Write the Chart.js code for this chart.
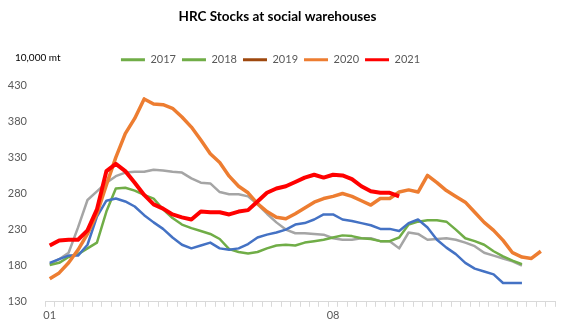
<!DOCTYPE html>
<html>
<head>
<meta charset="utf-8">
<script src="https://cdn.jsdelivr.net/npm/chart.js"></script>
<style>
  body { margin: 0; background: #fff; }
  #wrap { width: 568px; height: 332px; position: relative; }
</style>
</head>
<body>
<div id="wrap"><canvas id="stocksChart"></canvas></div>
<script>
// Week categories (month of each weekly reading)
const weeks = [
    '01','01','01','01','02','02','02','02','03','03','03','03','03',
    '04','04','04','04','05','05','05','05','06','06','06','06','06',
    '07','07','07','07','08','08','08','08','08','09','09','09','09',
    '10','10','10','10','11','11','11','11','11','12','12','12','12','12','12'
];

const years = ['2017', '2018', '2019', '2020', '2021'];

// Stocks, 10,000 mt
const stocks2017 = [182,189,198,233,271,283,295,304,309,310,310,313,312,310,309,301,295,294,282,279,
    279,276,265,252,240,230,225,225,224,223,218,216,216,218,218,214,214,204,226,224,
    216,217,218,216,212,207,198,194,190,186,180];
const stocks2018 = [184,189,194,194,209,248,270,273,269,262,250,240,231,219,209,204,208,212,204,202,
    204,210,219,223,226,230,237,239,244,251,251,244,242,239,236,231,231,228,239,244,
    233,216,205,196,184,176,172,168,156,156,156];
const stocks2019 = [181,184,192,196,204,212,255,287,288,284,278,273,258,246,237,232,228,224,217,203,
    199,197,199,204,208,209,208,212,214,216,219,222,221,218,217,214,214,219,237,241,
    243,243,241,230,218,214,209,200,193,187,182];
const stocks2020 = [162,170,184,202,224,252,292,330,363,384,411,404,403,398,386,372,354,335,323,304,
    290,281,266,255,247,245,252,260,268,273,276,280,276,270,264,273,273,282,285,282,
    305,295,284,276,268,254,240,229,215,198,192,190,200];
const stocks2021 = [208,215,216,216,229,258,311,321,311,295,278,265,259,251,247,244,255,254,254,251,
    255,257,269,281,287,290,296,302,306,302,306,305,300,290,283,281,281,276];

const lineColors = ['#A5A5A5', '#4472C4', '#70AD47', '#ED7D31', '#FF0000'];
const legendColors = ['#70AD47', '#70AD47', '#9E480E', '#ED7D31', '#FF0000'];
const lineWidths = [2.5, 2.5, 2.5, 3.5, 4];
const drawOrder = [4, 2, 3, 1, 0];

Chart.defaults.font.family = "Lato, 'Liberation Sans', sans-serif";
Chart.defaults.color = '#595959';

// "10,000 mt" unit note, extra room under the legend and a small legend nudge
const unitNote = {
    id: 'unitNote',
    afterInit(chart) {
        const lg = chart.legend;
        const fit = lg.fit.bind(lg);
        lg.fit = function () {
            fit();
            this.height += 10;
        };
    },
    afterLayout(chart) {
        chart.legend.left -= 7;
        chart.legend.right -= 7;
    },
    afterDraw(chart) {
        const ctx = chart.ctx;
        ctx.save();
        ctx.font = "10px Lato, 'Liberation Sans', sans-serif";
        ctx.fillStyle = '#000';
        ctx.textBaseline = 'middle';
        ctx.fillText('10,000 mt', 15, 58);
        ctx.restore();
    }
};

const series = [stocks2017, stocks2018, stocks2019, stocks2020, stocks2021];

new Chart(document.getElementById('stocksChart'), {
    type: 'line',
    data: {
        labels: weeks,
        datasets: series.map((data, i) => ({
            label: years[i],
            data: data,
            borderColor: lineColors[i],
            borderWidth: lineWidths[i],
            pointRadius: 0,
            tension: 0,
            fill: false,
            borderJoinStyle: 'round',
            order: drawOrder[i]
        }))
    },
    options: {
        responsive: true,
        maintainAspectRatio: false,
        animation: false,
        layout: { padding: { left: 0, right: 13, top: 0, bottom: 8 } },
        plugins: {
            title: {
                display: true,
                text: 'HRC Stocks at social warehouses',
                color: '#000',
                font: { size: 13.5, weight: 'bold' },
                padding: { top: 9, bottom: 23 }
            },
            legend: {
                labels: {
                    boxWidth: 24,
                    boxHeight: 3,
                    padding: 6,
                    color: '#595959',
                    font: { size: 11 },
                    generateLabels: chart => chart.data.datasets.map((ds, i) => ({
                        text: ds.label,
                        fillStyle: legendColors[i],
                        strokeStyle: legendColors[i],
                        lineWidth: 0,
                        datasetIndex: i,
                        hidden: false,
                        fontColor: '#595959'
                    }))
                }
            },
            tooltip: { enabled: false }
        },
        scales: {
            x: {
                offset: true,
                grid: { offset: true, drawOnChartArea: false, tickLength: 5, color: '#d9d9d9' },
                border: { color: '#d9d9d9' },
                ticks: {
                    autoSkip: false,
                    maxRotation: 0,
                    padding: 2,
                    font: { size: 11 },
                    callback: (v, i) => (i % 30 === 0 ? weeks[i] : '')
                }
            },
            y: {
                min: 130,
                max: 430,
                grid: { display: false },
                border: { display: false },
                ticks: { stepSize: 50, padding: 10, font: { size: 11 } },
                afterFit: s => { s.width = 45; }
            }
        }
    },
    plugins: [unitNote]
});
</script>
</body>
</html>
